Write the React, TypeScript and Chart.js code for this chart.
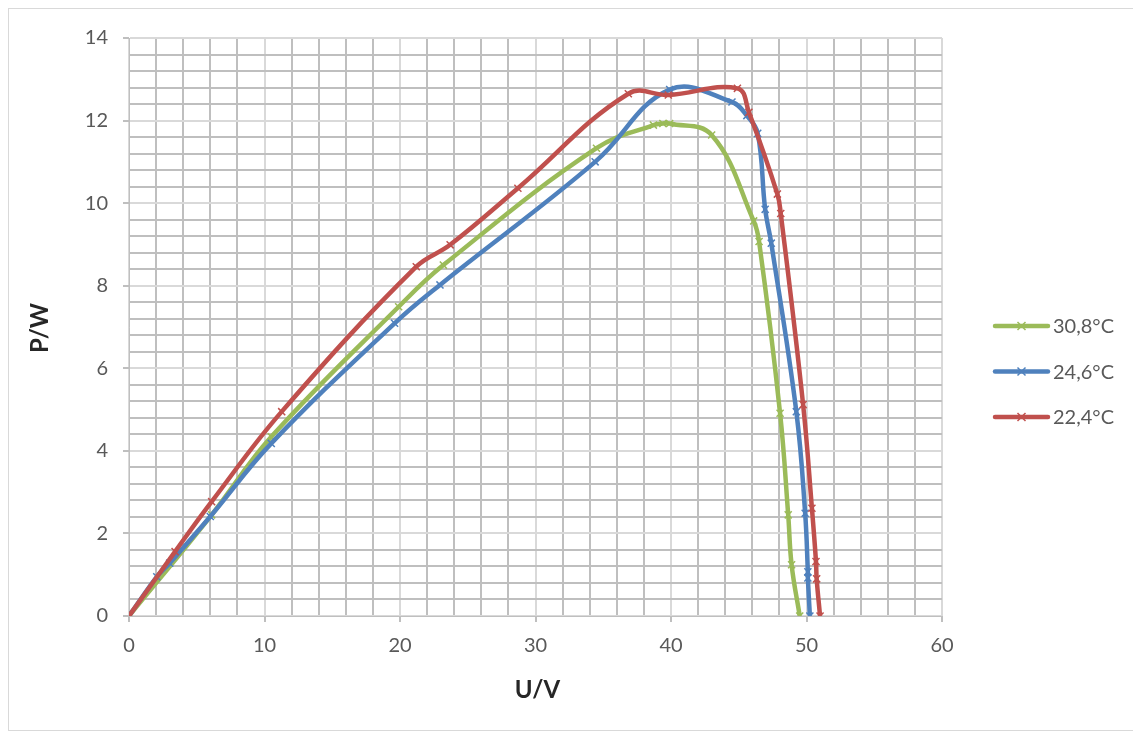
import React, { useEffect, useRef } from "react";
import { Chart, registerables } from "chart.js";

Chart.register(...registerables);

const seriesLabels = ["30,8°C", "24,6°C", "22,4°C"];
const seriesColors = ["#9BBB59", "#4F81BD", "#C0504D"];

const greenU = [0, 6.1, 10.5, 19.9, 23.2, 34.5, 38.7, 39.4, 39.9, 43.0, 46.1, 46.5, 48.05, 48.65, 48.9, 49.5];
const greenP = [0, 2.45, 4.34, 7.49, 8.5, 11.33, 11.89, 11.93, 11.93, 11.65, 9.57, 9.07, 4.91, 2.45, 1.24, 0];

const blueU = [0, 2.05, 3.0, 6.0, 10.5, 19.6, 22.95, 34.4, 39.9, 44.5, 45.6, 46.4, 46.95, 47.4, 49.25, 49.9, 50.1, 50.1, 50.25];
const blueP = [0, 0.95, 1.28, 2.41, 4.18, 7.09, 8.02, 11.0, 12.75, 12.45, 12.12, 11.69, 9.85, 9.03, 4.95, 2.49, 1.07, 0.92, 0];

const redU = [0, 3.4, 6.1, 11.27, 21.2, 23.7, 28.7, 36.85, 39.8, 44.9, 45.75, 47.85, 48.1, 49.75, 50.4, 50.7, 50.75, 51.0];
const redP = [0, 1.56, 2.77, 4.95, 8.46, 8.99, 10.36, 12.65, 12.62, 12.78, 12.2, 10.22, 9.75, 5.12, 2.61, 1.32, 0.9, 0];

const xMin = 0, xMax = 60, xMinorStep = 2, xMajorStep = 10;
const yMin = 0, yMax = 14, yMinorStep = 0.4, yMajorStep = 2;
const xTitle = "U/V";
const yTitle = "P/W";

const toPoints = (u: number[], p: number[]) => u.map((x, i) => ({ x, y: p[i] }));
const isMajor = (v: number, step: number) => Math.abs(v / step - Math.round(v / step)) < 1e-6;

const FONT = "Lato, 'Open Sans', sans-serif";
const LABEL_COLOR = "#595959";

const overlayPlugin = {
  id: "overlay",
  afterDraw(chart: any) {
    const ctx = chart.ctx as CanvasRenderingContext2D;
    const ca = chart.chartArea;
    ctx.save();
    // axis titles
    ctx.fillStyle = "#262626";
    ctx.font = `bold 24px ${FONT}`;
    ctx.textAlign = "center";
    ctx.textBaseline = "middle";
    ctx.fillText(xTitle, (ca.left + ca.right) / 2 + 2, 681);
    ctx.save();
    ctx.translate(31, (ca.top + ca.bottom) / 2 + 1);
    ctx.rotate(-Math.PI / 2);
    ctx.fillText(yTitle, 0, 0);
    ctx.restore();
    // legend
    const x0 = 986, x1 = 1039, tx = 1044;
    const ys = [317, 362.5, 408];
    ctx.font = `20px ${FONT}`;
    ctx.textAlign = "left";
    seriesLabels.forEach((lab, i) => {
      const y = ys[i];
      ctx.strokeStyle = seriesColors[i];
      ctx.lineWidth = 4.5;
      ctx.lineCap = "round";
      ctx.beginPath();
      ctx.moveTo(x0, y);
      ctx.lineTo(x1, y);
      ctx.stroke();
      const cx = (x0 + x1) / 2, r = 4;
      ctx.lineWidth = 1.5;
      ctx.lineCap = "butt";
      ctx.beginPath();
      ctx.moveTo(cx - r, y - r);
      ctx.lineTo(cx + r, y + r);
      ctx.moveTo(cx - r, y + r);
      ctx.lineTo(cx + r, y - r);
      ctx.stroke();
      ctx.fillStyle = LABEL_COLOR;
      ctx.fillText(lab, tx, y + 1);
    });
    ctx.restore();
  },
};

export default function App() {
  const canvasRef = useRef<HTMLCanvasElement | null>(null);

  useEffect(() => {
    if (!canvasRef.current) return;
    const mk = (label: string, u: number[], p: number[], color: string, order: number) => ({
      label,
      data: toPoints(u, p),
      borderColor: color,
      backgroundColor: color,
      borderWidth: 4.5,
      tension: 0.4,
      showLine: true,
      pointStyle: "crossRot" as const,
      pointRadius: 5,
      pointBorderWidth: 1.5,
      pointBorderColor: color,
      pointBackgroundColor: color,
      order,
    });
    const chart = new Chart(canvasRef.current, {
      type: "scatter",
      data: {
        datasets: [
          mk(seriesLabels[0], greenU, greenP, seriesColors[0], 3),
          mk(seriesLabels[1], blueU, blueP, seriesColors[1], 2),
          mk(seriesLabels[2], redU, redP, seriesColors[2], 1),
        ],
      },
      options: {
        animation: false,
        responsive: true,
        maintainAspectRatio: false,
        layout: { padding: { left: 0, right: 198, top: 29, bottom: 0 } },
        plugins: { legend: { display: false }, tooltip: { enabled: false } },
        scales: {
          x: {
            type: "linear",
            min: xMin,
            max: xMax,
            afterFit: (s: any) => { s.height = 114; },
            ticks: {
              stepSize: xMinorStep,
              autoSkip: false,
              maxRotation: 0,
              padding: 12,
              color: LABEL_COLOR,
              font: { family: FONT, size: 20 },
              callback: (v: any) => (isMajor(Number(v), xMajorStep) ? String(v) : ""),
            },
            grid: {
              color: (c: any) => (isMajor(c.tick?.value ?? 0, xMajorStep) ? "#d9d9d9" : "#bfbfbf"),
              lineWidth: 2,
              tickLength: 6,
              tickColor: (c: any) => (isMajor(c.tick?.value ?? 0, xMajorStep) ? "#bfbfbf" : "rgba(0,0,0,0)"),
            },
            border: { color: "#bfbfbf", width: 1 },
          },
          y: {
            type: "linear",
            min: yMin,
            max: yMax,
            afterFit: (s: any) => { s.width = 120; },
            ticks: {
              stepSize: yMinorStep,
              autoSkip: false,
              padding: 15,
              color: LABEL_COLOR,
              font: { family: FONT, size: 20 },
              callback: (v: any) => {
                const n = Number(v);
                return isMajor(n, yMajorStep) ? String(Math.round(n)) : "";
              },
            },
            grid: {
              color: (c: any) => (isMajor(c.tick?.value ?? 0, yMajorStep) ? "#d9d9d9" : "#bfbfbf"),
              lineWidth: 2,
              tickLength: 6,
              tickColor: (c: any) => (isMajor(c.tick?.value ?? 0, yMajorStep) ? "#bfbfbf" : "rgba(0,0,0,0)"),
            },
            border: { color: "#bfbfbf", width: 1 },
          },
        },
      },
      plugins: [overlayPlugin],
    } as any);
    return () => chart.destroy();
  }, []);

  return (
    <div
      style={{
        width: 1133,
        height: 723,
        border: "1px solid #d9d9d9",
        boxSizing: "border-box",
        background: "#fff",
      }}
    >
      <div style={{ position: "relative", width: 1131, height: 721 }}>
        <canvas ref={canvasRef} />
      </div>
    </div>
  );
}
